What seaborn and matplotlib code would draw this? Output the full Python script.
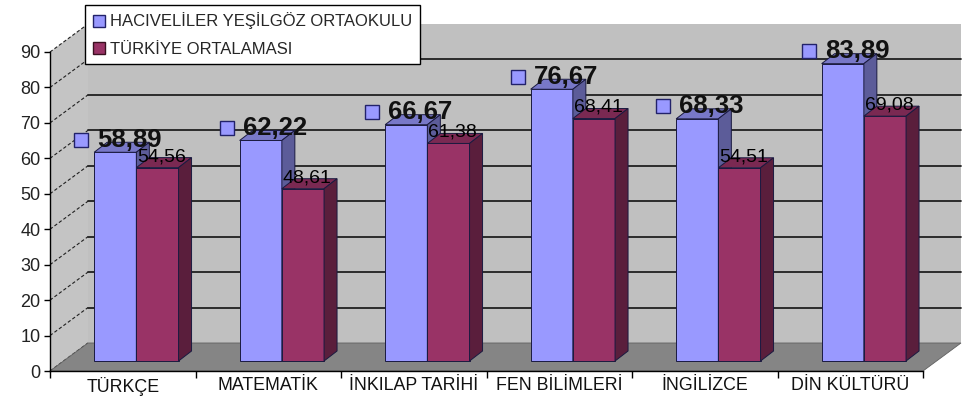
import pandas as pd
import seaborn as sns
import matplotlib.pyplot as plt
from matplotlib.patches import Polygon, Rectangle, Patch
from matplotlib.transforms import ScaledTranslation

categories = ['TÜRKÇE', 'MATEMATİK', 'İNKILAP TARİHİ', 'FEN BİLİMLERİ',
              'İNGİLİZCE', 'DİN KÜLTÜRÜ']
school = [58.89, 62.22, 66.67, 76.67, 68.33, 83.89]
turkey = [54.56, 48.61, 61.38, 68.41, 54.51, 69.08]
series = ['HACIVELİLER YEŞİLGÖZ ORTAOKULU', 'TÜRKİYE ORTALAMASI']
yticks = list(range(0, 100, 10))

sns.set_theme(style='white')
plt.rcParams['font.family'] = ['Liberation Sans', 'DejaVu Sans']

front = ['#9999ff', '#993366']
top = ['#7878c8', '#7a2952']
side = ['#5c5c99', '#5a1e3c']

df = pd.DataFrame({
    'Ders': categories * 2,
    'Puan': school + turkey,
    'Seri': [series[0]] * len(categories) + [series[1]] * len(categories),
})

W, H = 969, 405
fig = plt.figure(figsize=(W / 100, H / 100), dpi=100)
ax_l, ax_r, ax_b, ax_t = 50, 923, 371, 52
ax = fig.add_axes([ax_l / W, 1 - ax_b / H, (ax_r - ax_l) / W, (ax_b - ax_t) / H])

sns.barplot(data=df, x='Ders', y='Puan', hue='Seri', palette=front,
            saturation=1, width=0.58, ax=ax, legend=False,
            edgecolor='#1a1a40', linewidth=0.7)

ax.set_xlim(-0.5, len(categories) - 0.5)
ax.set_ylim(0, 90)
ax.patch.set_visible(False)
ax.set_xlabel('')
ax.set_ylabel('')

px_x = (ax_r - ax_l) / len(categories)
px_y = (ax_b - ax_t) / 90.0

# depth of the whole 3D box and of the bars
dx, dy = 38 / px_x, 28 / px_y
bdx, bdy = 13 / px_x, 10 / px_y
x0, x1 = ax.get_xlim()
y0, y1 = ax.get_ylim()

wall = Rectangle((x0 + dx, y0 + dy), x1 - x0, y1 - y0, facecolor='#c0c0c0',
                 edgecolor='none', zorder=0, clip_on=False)
ax.add_patch(wall)
sidewall = Polygon([(x0, y0), (x0 + dx, y0 + dy), (x0 + dx, y1 + dy), (x0, y1)],
                   facecolor='#c4c4c4', edgecolor='none', zorder=0.1, clip_on=False)
ax.add_patch(sidewall)
for t in yticks:
    if 0 < t < 90:
        ax.plot([x0 + dx, x1 + dx], [t + dy, t + dy], color='#202020', lw=1.3,
                zorder=0.3, clip_on=False)
    ax.plot([x0, x0 + dx], [t, t + dy], color='#202020', lw=0.8,
            ls=(0, (3, 2)), zorder=0.3, clip_on=False)
floor = Polygon([(x0, y0), (x1, y0), (x1 + dx, y0 + dy), (x0 + dx, y0 + dy)],
                facecolor='#858585', edgecolor='#606060', lw=0.6, zorder=0.5,
                clip_on=False)
ax.add_patch(floor)

bar_tr = ax.transData + ScaledTranslation(0.136, 0.10, fig.dpi_scale_trans)
key_tr = bar_tr + ScaledTranslation(-0.34, 0.125, fig.dpi_scale_trans)

for s, cont in enumerate(ax.containers):
    for bar in cont:
        bx, bw, bh = bar.get_x(), bar.get_width(), bar.get_height()
        bar.set_transform(bar_tr)
        bar.set_zorder(2 + s)
        bar.set_clip_on(False)
        tp = Polygon([(bx, bh), (bx + bw, bh), (bx + bw + bdx, bh + bdy),
                      (bx + bdx, bh + bdy)], facecolor=top[s],
                     edgecolor='#1a1a40', lw=0.7, transform=bar_tr,
                     zorder=2 + s, clip_on=False)
        sd = Polygon([(bx + bw, 0), (bx + bw + bdx, bdy),
                      (bx + bw + bdx, bh + bdy), (bx + bw, bh)],
                     facecolor=side[s], edgecolor='#1a1a40', lw=0.7,
                     transform=bar_tr, zorder=2 + s, clip_on=False)
        ax.add_patch(tp)
        ax.add_patch(sd)
        txt = f'{bh:.2f}'.replace('.', ',')
        cx = bx + bw / 2
        if s == 0:
            ax.annotate(txt, (cx, bh), xycoords=bar_tr, xytext=(-13, 9),
                        textcoords='offset points', ha='left', va='center',
                        fontsize=18.5, fontweight='bold', color='#111111',
                        zorder=6, annotation_clip=False)
            ax.plot([cx], [bh], marker='s', ms=10, mfc=front[0], mec='#22226a',
                    mew=1.0, transform=key_tr, zorder=6, clip_on=False)
        else:
            ax.annotate(txt, (cx, bh), xycoords=bar_tr, xytext=(3, 8),
                        textcoords='offset points', ha='center', va='center',
                        fontsize=14, color='#000000', zorder=6,
                        annotation_clip=False)

sns.despine(ax=ax)
for sp in ['left', 'bottom']:
    ax.spines[sp].set_color('black')
    ax.spines[sp].set_linewidth(1.0)
    ax.spines[sp].set_zorder(4)

ax.set_yticks(yticks)
ax.tick_params(axis='y', which='major', left=True, length=4, width=1,
               color='black', pad=3, labelsize=13, labelcolor='#222222')
ax.set_xticks(range(len(categories)))
ax.set_xticklabels(categories)
ax.set_xticks([i - 0.5 for i in range(len(categories) + 1)], minor=True)
ax.tick_params(axis='x', which='major', bottom=False, length=0, pad=4,
               labelsize=12.8, labelcolor='#111111')
ax.tick_params(axis='x', which='minor', bottom=True, length=5, width=1,
               color='black')

handles = [Patch(facecolor=front[0], edgecolor='#22226a'),
           Patch(facecolor=front[1], edgecolor='#3a1020')]
leg = fig.legend(handles, series, loc='upper left',
                 bbox_to_anchor=(85 / W, 1 - 5 / H), fontsize=12,
                 frameon=True, fancybox=False, framealpha=1, edgecolor='black',
                 handlelength=0.75, handleheight=0.75, handletextpad=0.3,
                 labelspacing=0.75, borderpad=0.45, borderaxespad=0)
leg.get_frame().set_linewidth(1.0)
leg.set_zorder(10)

fig.savefig('out.png', dpi=100)
